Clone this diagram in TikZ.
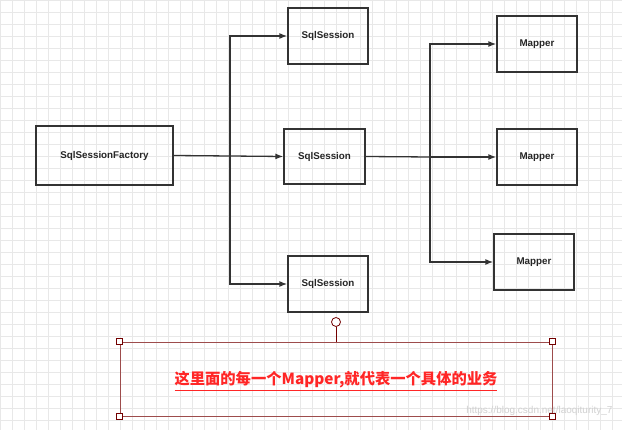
\documentclass[tikz,border=0pt]{standalone}
\usepackage{fontspec}
\setmainfont{Liberation Sans}
\newfontfamily\cjk{Noto Sans CJK SC}
\usetikzlibrary{arrows.meta}
\begin{document}
\begin{tikzpicture}[x=1pt,y=-1pt,
  box/.style={draw=black!80,line width=1.3pt,minimum width=80pt,minimum height=56pt,font=\fontsize{9.8}{11}\selectfont\bfseries,text=black!85},
  arr/.style={draw=black!80,line width=1.3pt,-{Latex[length=8pt,width=6pt]}},
  sel/.style={draw=red!45!black,fill=white,minimum size=6pt,inner sep=0pt,line width=0.8pt}]
\useasboundingbox (0,0) rectangle (622,430);
\fill[white] (0,0) rectangle (622,430);
\foreach \i in {0,12,...,622} \draw[black!9,line width=0.6pt] (\i,0) -- (\i,430);
\foreach \j in {0,12,...,430} \draw[black!9,line width=0.6pt] (0,\j) -- (622,\j);
\node[box,minimum width=137pt,minimum height=59pt] (f) at (104.5,155.5) {SqlSessionFactory};
\node[box] (s1) at (328,36) {SqlSession};
\node[box,minimum width=81pt,minimum height=55pt] (s2) at (324.5,156.5) {SqlSession};
\node[box] (s3) at (328,284) {SqlSession};
\node[box] (m1) at (537,44) {Mapper};
\node[box] (m2) at (537,157) {Mapper};
\node[box] (m3) at (534,262) {Mapper};
\coordinate (j1) at (230,156);
\coordinate (j2) at (430,157);
\draw[draw=black!80,line width=1.3pt] (f.east) -- (j1);
\draw[arr] (j1) |- (s1.west);
\draw[arr] (j1) -- (s2.west);
\draw[arr] (j1) |- (s3.west);
\draw[draw=black!80,line width=1.3pt] (s2.east) -- (j2);
\draw[arr] (j2) |- (m1.west);
\draw[arr] (j2) -- (m2.west);
\draw[arr] (j2) |- (m3.west);
\node[draw=red!45!black!70,line width=0.6pt,minimum width=432pt,minimum height=74pt,inner sep=0pt] (n) at (336,379) {};
\node[font=\cjk\bfseries\fontsize{15.3}{17}\selectfont,text=red!85!white,inner sep=0pt] (t) at (336,381) {\underline{这里面的每一个Mapper,就代表一个具体的业务}};
\node[font=\fontsize{10}{12}\selectfont,text=black!18,anchor=east] (w) at (616,411) {https://blog.csdn.net/laoqiturity\_7};
\node[draw=red!45!black,circle,fill=white,minimum size=9pt,inner sep=0pt,line width=0.8pt] (h) at (336,322) {};
\draw[red!45!black,line width=0.8pt] (h) -- (n.north);
\foreach \c in {north west,north east,south west,south east} \node[sel] at (n.\c) {};
\end{tikzpicture}
\end{document}
